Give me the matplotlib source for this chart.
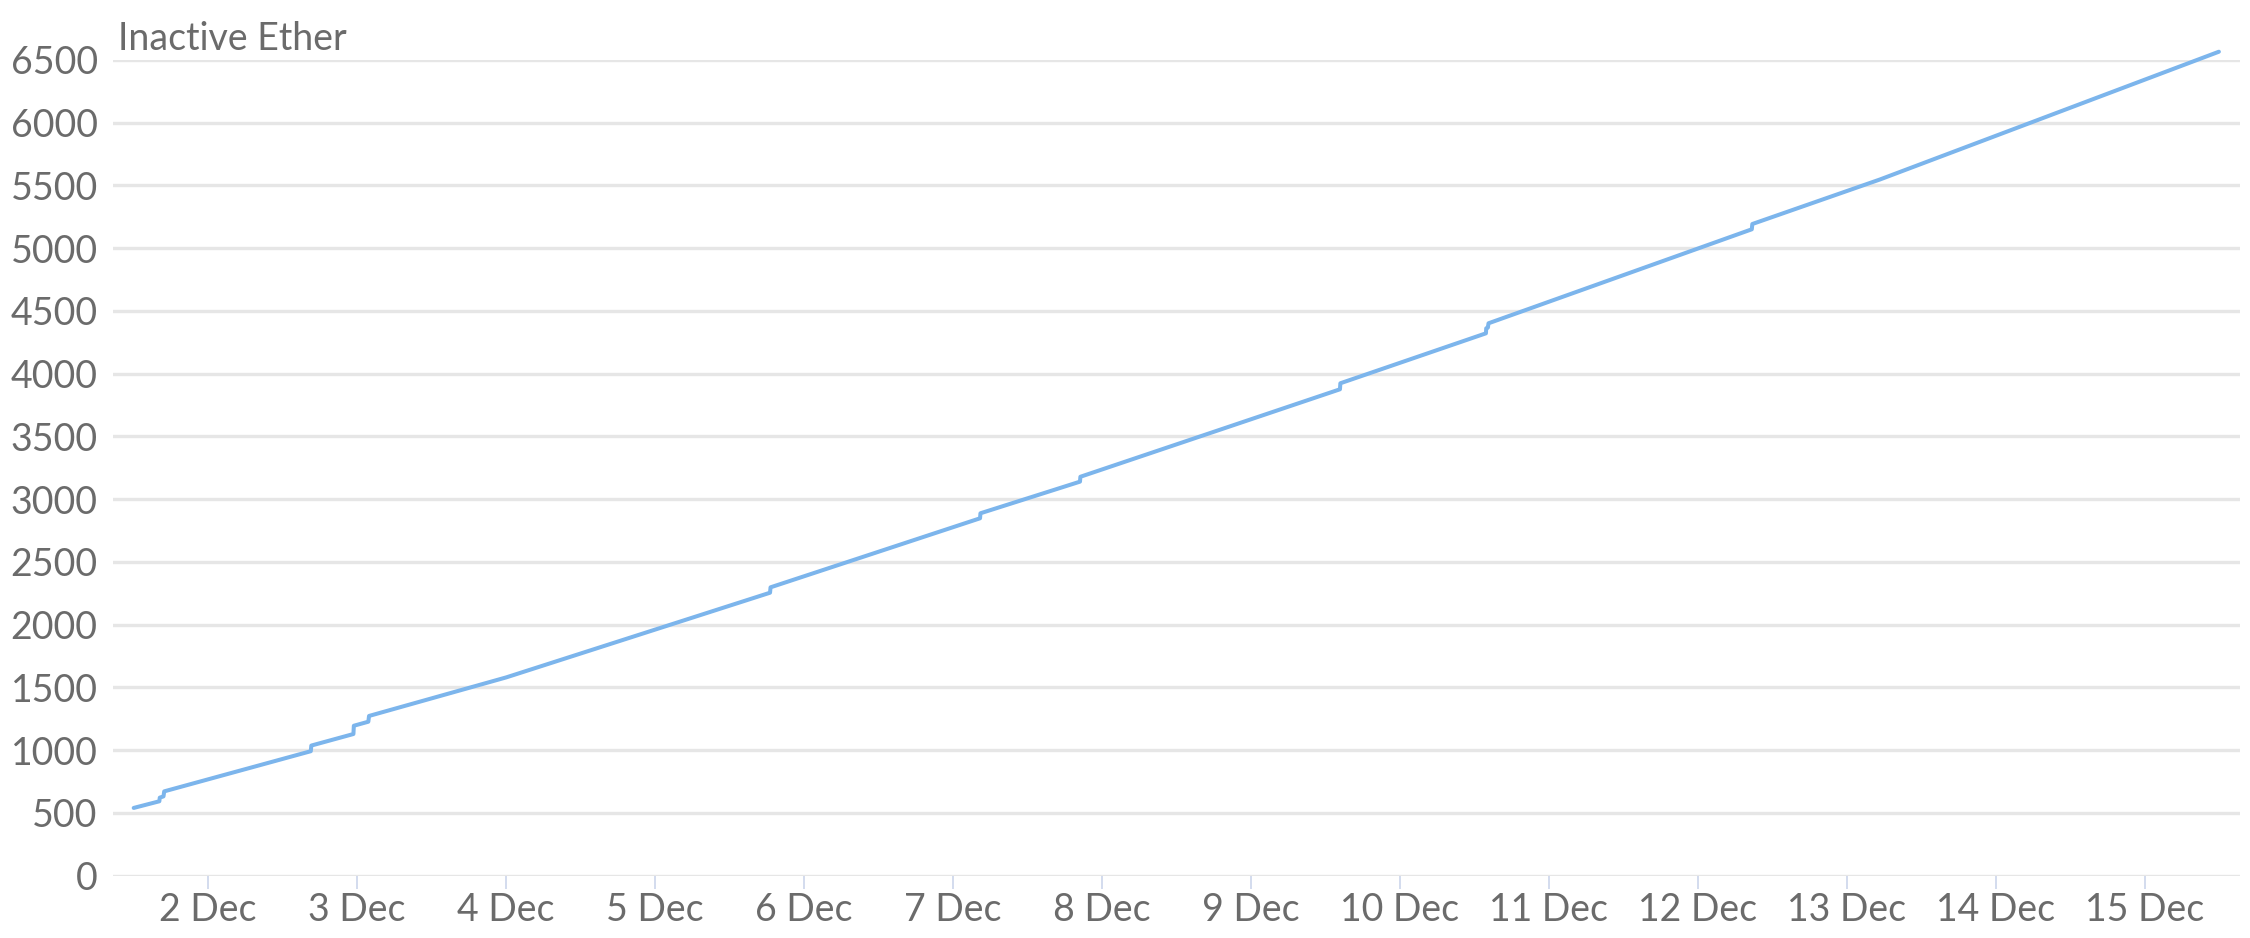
import matplotlib
matplotlib.use("Agg")
import matplotlib.pyplot as plt
import pandas as pd

# knots of the inactive ether series (time, ether)
times = [
    "2020-12-01 12:00", "2020-12-01 16:08", "2020-12-01 16:12", "2020-12-01 16:48",
    "2020-12-01 16:55", "2020-12-02 16:32", "2020-12-02 16:37", "2020-12-02 23:24",
    "2020-12-02 23:28", "2020-12-03 01:48", "2020-12-03 01:55", "2020-12-04 00:00",
    "2020-12-05 18:31", "2020-12-05 18:36", "2020-12-07 04:21", "2020-12-07 04:25",
    "2020-12-07 20:27", "2020-12-07 20:31", "2020-12-09 14:20", "2020-12-09 14:24",
    "2020-12-10 13:51", "2020-12-10 13:54", "2020-12-10 14:10", "2020-12-10 14:16",
    "2020-12-12 08:41", "2020-12-12 08:46", "2020-12-13 05:20", "2020-12-15 11:56",
]
ether = [
    540, 593, 622, 632,
    672, 992, 1037, 1129,
    1195, 1227, 1273, 1580,
    2255, 2298, 2848, 2888,
    3140, 3179, 3876, 3924,
    4322, 4362, 4368, 4402,
    5151, 5193, 5548, 6566,
]
tick_days = [f"2020-12-{d:02d}" for d in range(2, 16)]
tick_labels = [f"{d} Dec" for d in range(2, 16)]
y_ticks = list(range(0, 7000, 500))

t = pd.to_datetime(times)
xt = pd.to_datetime(tick_days)

text_c = "#6b6b6b"
plt.rcParams["font.family"] = ["Lato", "DejaVu Sans"]

fig = plt.figure(figsize=(22.5, 9.38), dpi=100)
ax = fig.add_axes([113 / 2250, 1 - 875.7 / 938, (2240 - 113) / 2250, 815.7 / 938])

ax.plot(t, ether, color="#7cb5ec", lw=2.9, solid_capstyle="round", solid_joinstyle="round",
        zorder=3, clip_on=False)

ax.set_ylim(0, 6500)
ax.set_xlim(pd.Timestamp("2020-12-01 08:40"), pd.Timestamp("2020-12-15 15:20"))
ax.set_yticks(y_ticks)
ax.set_yticklabels([str(v) for v in y_ticks])
ax.set_xticks(xt)
ax.set_xticklabels(tick_labels)

ax.grid(axis="y", color="#e6e6e6", lw=2.4)
ax.set_axisbelow(True)
for s in ax.spines.values():
    s.set_visible(False)

ax.tick_params(axis="y", length=0, pad=11, labelsize=27, labelcolor=text_c)
ax.tick_params(axis="x", length=9, width=1.2, color="#ccd6eb", pad=3, labelsize=27, labelcolor=text_c)

fig.text(118 / 2250, 1 - 50 / 938, "Inactive Ether", fontsize=27, color=text_c, va="baseline", ha="left")

fig.savefig("out.png", dpi=100)
